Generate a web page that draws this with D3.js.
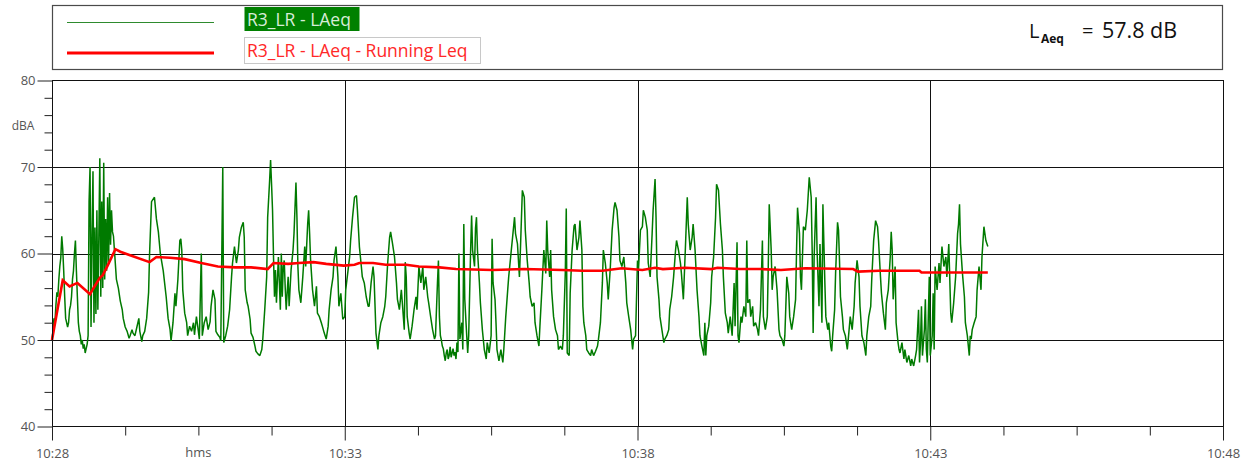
<!DOCTYPE html>
<html>
<head>
<meta charset="utf-8">
<script src="https://cdn.jsdelivr.net/npm/d3@7"></script>
<style>
  html, body { margin: 0; padding: 0; background: #fff; }
  svg { display: block; }
  text { font-family: "Open Sans", "DejaVu Sans", sans-serif; }
</style>
</head>
<body>
<svg id="chart" width="1253" height="461"></svg>
<script>
// Measurement start and axis range
const startClock = "10:28:00";
const endClock = "10:48:00";

// Series names
const seriesNames = ["R3_LR - LAeq", "R3_LR - LAeq - Running Leq"];
const overallLabel = { prefix: "L", sub: "Aeq", equals: "=", value: "57.8 dB" };

// Axis ticks
const yMajorTicks = [40, 50, 60, 70, 80];
const yUnit = "dBA";
const xMajorLabels = ["10:28", "10:33", "10:38", "10:43", "10:48"];
const xUnit = "hms";

// LAeq samples: [seconds after 10:28:00, dB]
const laeqSamples = [
[0,50],[1,51],[2,52.5],[3,52],[4,54],[5,55.5],[6,55],[7,57],[8,58.5],[9,59.5],[10,62],[11,60.5],[12,58],[13,55],[14,52.5],[15,52],[16,51.5],[17,52],[18,53.5],[19,54],[20,55],[21,57],[22,58],[23,60],[24,61.5],[25,58],[26,55],[27,52],[28,51],[29,50.5],[30,49.5],[31,50],[32,49],[33,49.5],[34,48.5],[35,49],[36,49.5],
[37,50.5],[38,66],[39,70],[40,51.5],[41,62],[42,69.5],[43,52],[44,63],[45,53],[46,65],[47,53.5],[48,62],[49,71],[50,55],[51,66],[52,56],[53,70.5],[54,57],[55,64],[56,58],[57,66.5],[58,59],[59,67],[60,61],[61,65],[62,62.5],[63,62],
[66,57],[68,56],[70,54.5],[72,53.5],[73,52.5],[75,51.5],[77,51],[79,50.2],[80,50.5],[82,51.2],[83,50.8],[85,50.5],[87,51.5],[89,52.5],[90,51],[92,49.8],[93,50.5],[95,51],[97,52.5],[99,55.5],[100,60],[102,66],[105,66.5],[107,64],[109,62.5],[111,60],[114,58],[117,55],[119,52.5],
[121,51.2],[122,49.9],[124,52],[126,55.4],[127,53.9],[129,57],[131,61.5],[132,61.7],[133,60.4],[134,55.8],[136,53.1],[138,52],[139,50.5],[141,51.6],[143,51],[145,52],[146,50.6],[148,52.7],[150,51],[151,50.1],[153,60],[154,50.5],[156,52],[158,52.7],[160,51.2],[162,52.1],[163,53.9],[165,55.8],[167,54.7],[168,51],[170,50.6],[172,50.3],[173,49.9],[175,70],[176,49.7],[178,50.5],[180,51.6],[182,53.5],[184,57.3],[185,58.9],[187,60.8],[189,58.9],[191,60.4],[192,61.9],[194,63],[196,63.6],[197,61.9],[198,55.8],[200,54.3],[201,53.9],[203,52.4],[204,50.8],[206,50.3],[208,49.3],[209,48.7],[211,48.4],[213,48.2],[215,48.9],[216,50.1],[218,53.5],[220,57.3],[221,64.2],[223,68.4],[224,70.8],[225,68],[226,65],[227,59.6],[228,55],[229,58.1],[230,54.3],[231,57],[232,59.6],[233,56.6],[234,53.5],[235,60],[236,55],[237,58.5],[238,59.2],[239,56],[240,53.5],[241,55.5],[242,57.3],
[243,53.9],[245,58.1],[247,60.4],[248,62.3],[250,68.2],[251,64.2],[252,58.5],[253,55.8],[255,54.3],[257,57.3],[259,60.8],[260,58.5],[262,63.4],[263,65],[264,62.3],[265,59.2],[267,55.8],[269,53.9],[271,56.2],[272,53.1],[274,52.7],[276,52],[277,51.6],[279,50.8],[281,50.1],[283,51.6],[284,53.5],[286,55.8],[288,57.3],[289,59.2],[291,60.8],[293,57.3],[294,53.9],[296,55.4],[298,52.4],[300,52.7],[301,55.8],[303,57.7],[305,59.6],[306,61.5],[308,64.2],[310,66.5],[312,66.7],[313,65],[315,60.8],[317,58.5],[318,57.3],[320,56.6],[322,55],[324,53.9],[325,53.9],[327,56.6],[329,58.5],[330,57.3],[332,50.8],[334,48.9],[335,50.5],[337,52],[339,52.7],[341,53.9],[342,55],[344,58.9],[346,61.9],[347,62.5],[349,61.1],[351,59.6],[353,56.6],[354,54.7],[356,53.5],[358,55.8],[359,54.3],[361,51.2],
[362,59],[363,57.3],[364,52.7],[366,50.8],[367,50.1],[369,51.6],[371,53.5],[373,55],[374,53.5],[376,58.5],[378,56.6],[380,58.5],[381,55.8],[383,57.3],[385,55],[386,54.3],[388,52.7],[390,51.2],[392,50.1],[393,50.5],[395,56.6],[396,59.2],[397,52.7],[398,50.5],[399,50],[400,49.3],[401,49],[402,48.2],[403,47.6],[404,48.5],[405,48.9],[406,47.8],[407,48.2],[408,49.2],[409,48],[410,48.5],[411,49],[412,48.2],[413,48.6],[414,47.8],[415,49.7],[416,48.6],[417,60],[418,50.1],[420,52],[421,48.9],[422,63.4],[423,54.7],[425,50.5],[426,48.5],[427,50.5],[429,60.4],[430,64.4],[431,60.4],[433,58.5],[434,62.9],[435,64.2],[436,60.4],[438,56.6],[439,54.3],[441,51.2],[443,48.9],[445,47.8],[446,49.7],[448,48.5],[450,50.5],[451,61.7],[452,56.6],[454,54.7],[455,52],[456,48.9],[458,47.6],[460,48.9],[462,47.4],[463,48.9],[465,52.7],[467,55.8],[468,57.3],[470,59.6],[472,61.9],[474,64.2],[475,62.3],[477,61.1],[479,57.3],[480,60.4],[482,67.3],[484,66.5],
[485,62.7],[487,59.2],[489,56.6],[490,55],[492,53.9],[494,54.3],[495,52],[497,50.5],[499,49.3],[500,51.6],[502,55.8],[504,60.4],[506,57.7],[507,63.8],[508,60.4],[510,57.3],[511,60.4],[512,55.8],[514,52.7],[516,51.2],[518,50.5],[519,48.9],[521,49.3],[523,48.9],[524,50.5],[526,57.7],[527,65.2],[528,48.5],[530,48.2],[531,55.4],[533,60.4],[535,63.2],[536,63.4],[538,60.4],[540,61.9],[541,63.8],[543,60.4],[544,53.9],[545,52],[547,50.5],[548,48.9],[550,48.5],[552,48.2],[553,48.9],[555,48.2],[557,48.7],[559,49.3],[560,50.1],[562,52],[564,56.6],[565,60.4],[567,58.9],[569,56.6],[570,54.7],[572,58.1],[574,62.7],[576,65.3],[577,65.9],[579,65],[581,61.9],[582,59.2],[584,58.5],[586,59.6],[588,56.6],[589,54.3],[591,52.7],[593,51.2],[595,48.9],[596,50.1],[598,50.5],[600,59.2],[601,58.1],[603,62.7],[605,63.1],
[606,65],[608,64.2],[610,62.7],[611,58.9],[613,57.3],[615,62.3],[616,65],[618,68.6],[619,64.2],[620,57.3],[622,54.7],[623,52.7],[625,51.2],[627,49.7],[628,50.1],[630,50.5],[632,51.2],[633,53.5],[635,55],[637,57.3],[639,60.4],[640,61.5],[642,60.4],[644,58.9],[645,57.7],[647,54.7],[649,60.4],[651,66.5],[652,63.4],[654,60.4],[656,61.9],[657,63.4],[659,60.4],[661,55.8],[663,52.7],[664,50.5],[666,49.3],[668,48.2],[669,52],[670,48.2],[671,50.5],[673,51.6],[675,54.3],[676,57.3],[678,59.6],[680,64.2],[681,68],[683,67.3],[685,63.4],[687,60.4],[688,57.3],[690,53.1],[692,52],[693,50.8],[695,52.7],[697,50.5],[699,56.6],[700,51.6],[702,61.3],[703,50.5],[704,49.7],[706,52.7],[707,52],[709,53.9],[711,52.7],[712,61.5],[713,54.3],[715,54.7],[716,52.7],[718,53.9],[719,51.6],[721,52],[723,51.2],[724,50.5],[726,53.5],[728,61.5],[729,52.7],[731,51.2],[733,52.7],[734,58.5],[735,65.7],[737,60.4],[738,55.8],[739,57.3],[741,58.5],[743,55.8],[745,51.2],[746,50.5],[748,50.1],[750,49.3],[751,50.5],[753,57.3],[755,55.4],[756,52.7],[758,51.2],[760,52.7],[762,54.7],[763,60.4],[764,65.3],[766,62.3],[767,57.3],[768,55.8],[770,63.1],[772,62.7],[774,65],[775,66.9],[776,68.8],[778,66.5],[779,60.4],[780,50.8],[781,59.6],[783,66.5],[784,60.4],[786,53.9],[787,61.1],[789,52],[790,65.7],[792,56.6],[793,52.7],[795,51.2],[796,52],[798,49.3],[799,48.7],[800,50.5],[802,53.5],[803,57.7],[805,63.6],[806,62.7],[807,59.2],[808,55],[810,52.7],[811,51.2],[813,50.5],[815,48.9],[816,50.1],[818,52.7],[820,51.2],[822,53.9],[823,56.6],[825,59.2],[827,57.3],[828,53.9],[830,50.5],[832,49.7],[834,48.2],[835,50.5],[837,52.7],[839,53.9],[840,56.9],[842,61.5],[844,63.8],[846,63.1],[847,61.5],[849,57.3],[850,55.4],[852,53.1],[854,51.2],[855,54.3],[857,55.8],[859,59.6],[860,62.5],[861,60.4],[862,54.7],[864,58.5],[865,52],[867,49.7],[868,48.9],[869,48.5],[871,49.7],[873,47.8],[874,48.9],[876,47.4],[878,48.2],[880,47],[881,47.8],[883,47],[885,48.2],[886,48.9],[888,53.5],[889,47.4],[890,49.7],[891,53.9],[892,48.2],[894,51.2],[895,54.7],[896,48.9],[897,47.4],[898,52.7],[899,57.3],[900,48.2],[902,50.5],[903,55.4],[904,48.9],[905,58.5],[907,55.8],[909,58.9],[910,56.6],[912,60.8],[914,58.5],[916,59.6],[917,57.3],[919,61.1],[921,53.1],[922,52],[924,54.3],[926,57.3],[928,62.3],[929,63.4],[930,65.7],[931,61.1],[933,57.7],[935,55],[936,52],[938,50.5],[940,48.2],[941,50.5],[942,50.1],[943,51.2],[945,52],[947,52.7],[948,55.8],[950,58.5],[952,55.8],[953,59.6],[955,63.1],[956,62.3],[957,61.5],[959,60.8]
];

// Running Leq: [seconds after 10:28:00, dB]
const runningLeq = [
[0,50],[11,56.9],[18,56.2],[26,56.6],[39,55.3],[42,55.9],[49,57.2],[52,57.5],[57,58.6],[65,60.5],[70,60.2],[80,59.8],[100,59.0],[107,59.6],[121,59.5],[136,59.35],[153,58.9],[170,58.5],[188,58.4],[204,58.4],[221,58.2],[227,58.9],[242,58.8],[253,58.9],[268,59.0],[281,58.8],[299,58.6],[310,58.7],[315,58.9],[329,58.9],[342,58.7],[363,58.7],[376,58.5],[397,58.4],[414,58.2],[451,58.1],[484,58.2],[523,58.1],[543,58.0],[564,58.0],[584,58.3],[605,58.1],[618,58.35],[626,58.2],[649,58.35],[676,58.2],[682,58.35],[705,58.2],[727,58.2],[747,58.1],[772,58.3],[821,58.2],[826,57.9],[847,58.0],[889,58.0],[891,57.8],[959,57.8]
];

const svg = d3.select("#chart");
const day = "2000-01-01T";
const t0 = new Date(day + startClock);
const t1 = new Date(day + endClock);
const toTime = s => new Date(t0.getTime() + s * 1000);

const plot = { left: 52, right: 1223, top: 80.5, bottom: 426.5 };

const x = d3.scaleTime().domain([t0, t1]).range([plot.left, plot.right]);
const y = d3.scaleLinear().domain([40, 80]).range([plot.bottom, plot.top]);

svg.append("rect").attr("width", 1253).attr("height", 461).attr("fill", "#fff");

// ---- Legend panel ----
const legend = svg.append("g");
legend.append("rect")
  .attr("x", 52.5).attr("y", 5.5).attr("width", 1170).attr("height", 64)
  .attr("fill", "#fff").attr("stroke", "#4a4a4a").attr("stroke-width", 1.2);

legend.append("line")
  .attr("x1", 67).attr("x2", 214).attr("y1", 22.5).attr("y2", 22.5)
  .attr("stroke", "#2e8b2e").attr("stroke-width", 1.2);
legend.append("line")
  .attr("x1", 67).attr("x2", 214).attr("y1", 53).attr("y2", 53)
  .attr("stroke", "#ff0000").attr("stroke-width", 3);

legend.append("rect")
  .attr("x", 244.5).attr("y", 7).attr("width", 115).attr("height", 24)
  .attr("fill", "#008000");
legend.append("text")
  .attr("x", 247).attr("y", 25.5)
  .attr("font-size", 17.5).attr("fill", "#d8ecd8")
  .text(seriesNames[0]);

legend.append("rect")
  .attr("x", 244.5).attr("y", 37.5).attr("width", 236).attr("height", 26)
  .attr("fill", "#fff").attr("stroke", "#c8c8c8");
legend.append("text")
  .attr("x", 247).attr("y", 57)
  .attr("font-size", 17.5).attr("fill", "#ff2828")
  .text(seriesNames[1]);

// Overall LAeq readout
const readout = legend.append("g").attr("fill", "#111").attr("font-family", "'DejaVu Sans', sans-serif");
readout.append("text").attr("x", 1029).attr("y", 38).attr("font-size", 20).text(overallLabel.prefix);
readout.append("text").attr("x", 1041).attr("y", 43).attr("font-size", 12).attr("font-weight", "bold").text(overallLabel.sub);
readout.append("text").attr("x", 1082).attr("y", 38).attr("font-size", 20).text(overallLabel.equals);
readout.append("text").attr("x", 1102).attr("y", 38).attr("font-size", 21.5).text(overallLabel.value);

// ---- Grid and frame ----
const grid = svg.append("g").attr("stroke", "#111").attr("stroke-width", 1).attr("shape-rendering", "crispEdges");
yMajorTicks.filter(v => v > 40 && v < 80).forEach(v => {
  grid.append("line").attr("x1", plot.left).attr("x2", plot.right)
    .attr("y1", Math.round(y(v)) + 0.5).attr("y2", Math.round(y(v)) + 0.5);
});
const xMajorTimes = xMajorLabels.map(l => new Date(day + l + ":00"));
xMajorTimes.slice(1, -1).forEach(t => {
  grid.append("line").attr("y1", plot.top).attr("y2", plot.bottom)
    .attr("x1", Math.round(x(t)) + 0.5).attr("x2", Math.round(x(t)) + 0.5);
});

// ---- Data lines ----
const lineGen = d3.line()
  .x(d => x(toTime(d[0])))
  .y(d => y(d[1]));

svg.append("path")
  .datum(laeqSamples)
  .attr("fill", "none")
  .attr("stroke", "#007a00")
  .attr("stroke-width", 1.5)
  .attr("stroke-linejoin", "bevel")
  .attr("d", lineGen);

svg.append("path")
  .datum(runningLeq)
  .attr("fill", "none")
  .attr("stroke", "#ff0000")
  .attr("stroke-width", 2.6)
  .attr("d", lineGen);

svg.append("rect")
  .attr("x", plot.left + 0.5).attr("y", plot.top)
  .attr("width", plot.right - plot.left - 0.5).attr("height", plot.bottom - plot.top)
  .attr("fill", "none").attr("stroke", "#111").attr("stroke-width", 1)
  .attr("shape-rendering", "crispEdges");

// ---- Axes ----
const yMinor = d3.range(40, 80.1, 2).filter(v => v % 10 !== 0);
const yAxisMajor = d3.axisLeft(y).tickValues(yMajorTicks).tickSize(15).tickPadding(2).tickFormat(d3.format("d"));
const yAxisMinor = d3.axisLeft(y).tickValues(yMinor).tickSize(8).tickFormat("");
const gy = svg.append("g").attr("transform", `translate(${plot.left + 0.5},0)`).call(yAxisMajor);
svg.append("g").attr("transform", `translate(${plot.left + 0.5},0)`).call(yAxisMinor).select(".domain").remove();
gy.select(".domain").remove();
gy.selectAll("text").attr("font-size", 13).attr("fill", "#555").attr("font-family", "'DejaVu Sans', sans-serif");
svg.selectAll(".tick line").attr("stroke", "#222");

svg.append("text").attr("x", 23).attr("y", 130).attr("text-anchor", "middle")
  .attr("font-size", 12).attr("fill", "#555").attr("font-family", "'DejaVu Sans', sans-serif")
  .text(yUnit);

const xMinor = d3.range(0, 1200.1, 75).filter(s => s % 300 !== 0).map(toTime);
const xAxisMajor = d3.axisBottom(x).tickValues(xMajorTimes).tickSize(14).tickPadding(8).tickFormat(d3.timeFormat("%H:%M"));
const xAxisMinor = d3.axisBottom(x).tickValues(xMinor).tickSize(9).tickFormat("");
const gx = svg.append("g").attr("transform", `translate(0,${plot.bottom})`).call(xAxisMajor);
gx.select(".domain").remove();
gx.selectAll("text").attr("font-size", 13).attr("fill", "#555").attr("font-family", "'DejaVu Sans Condensed', 'DejaVu Sans', sans-serif");
const gxm = svg.append("g").attr("transform", `translate(0,${plot.bottom})`).call(xAxisMinor);
gxm.select(".domain").remove();
svg.selectAll(".tick line").attr("stroke", "#222");

svg.append("text").attr("x", x(toTime(150))).attr("y", 457).attr("text-anchor", "middle")
  .attr("font-size", 13).attr("fill", "#555").attr("font-family", "'DejaVu Sans Condensed', 'DejaVu Sans', sans-serif")
  .text(xUnit);
</script>
</body>
</html>
